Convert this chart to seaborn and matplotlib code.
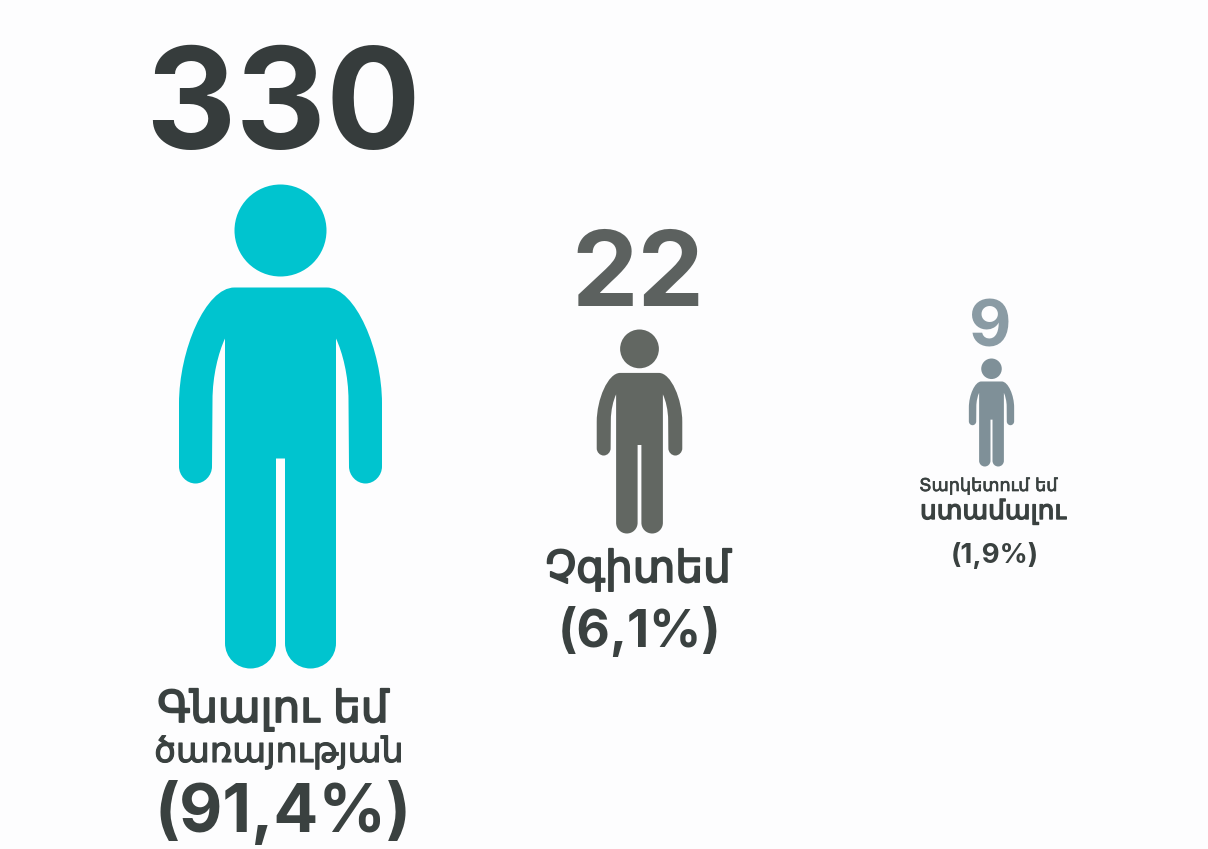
import numpy as np
import pandas as pd
import matplotlib
matplotlib.use('Agg')
import matplotlib.pyplot as plt
import matplotlib.patheffects as pe
from matplotlib.path import Path
import seaborn as sns

counts = [330, 22, 9]
shares = [91.4, 6.1, 1.9]
answers = ['Գնալու եմ ծառայության', 'Չգիտեմ', 'Տարկետում եմ ստամալու']
label_lines = [['Գնալու եմ', 'ծառայության'], ['Չգիտեմ'], ['Տարկետում եմ', 'ստամալու']]

BG = '#fdfdfe'
PERSON_COLORS = ['#00c4cf', '#626762', '#7f9098']
COUNT_COLORS = ['#363c3c', '#5c615f', '#8a9ba4']
TEXT = '#3a4140'

# layout, in pixels of the 1208x849 canvas
PERSON_X = [279.5, 639, 990.5]
PERSON_TOP = [184, 329, 358]
PERSON_BOTTOM = [668, 533, 466]
COUNT_X = [283, 638, 990]
COUNT_BASE = [149, 306, 346]
COUNT_SIZE = [101, 76, 47]
PCT_X = [283, 640, 995]
PCT_BASE = [832, 647, 563]
PCT_SIZE = [48, 37, 20]
LINE_X = [[273, 279], [638], [988, 993]]
LINE_BASE = [[722, 762], [582], [491, 519]]
LINE_SIZE = [[31.5, 25], [31.5], [12.7, 19]]
LINE_STROKE = [[1.3, 0.8], [1.3], [0.5, 1.0]]


def person_marker():
    # left half of the body, drawn from the big figure: dx from centre, y from top of page
    left = [
        (-46, 287, Path.MOVETO),
        (-75, 287, Path.CURVE4), (-101.5, 350, Path.CURVE4), (-101.5, 403, Path.CURVE4),
        (-101.5, 466, Path.LINETO),
        (-101.5, 475, Path.CURVE4), (-94, 483, Path.CURVE4), (-85, 483, Path.CURVE4),
        (-76, 483, Path.CURVE4), (-68.5, 475, Path.CURVE4), (-68.5, 466, Path.CURVE4),
        (-68, 400, Path.LINETO),
        (-68, 375, Path.CURVE4), (-62, 352, Path.CURVE4), (-55.5, 338, Path.CURVE4),
        (-55.5, 642.5, Path.LINETO),
        (-55.5, 657, Path.CURVE4), (-44, 668, Path.CURVE4), (-30, 668, Path.CURVE4),
        (-16, 668, Path.CURVE4), (-4.5, 657, Path.CURVE4), (-4.5, 642.5, Path.CURVE4),
        (-4.5, 458, Path.LINETO),
    ]
    xs = [p[0] for p in left]
    ys = [p[1] for p in left]
    codes = [p[2] for p in left]
    verts = list(zip(xs, ys))
    verts += [(-x, y) for x, y in zip(xs[::-1], ys[::-1])]
    codes = codes + [Path.LINETO] + codes[:0:-1]
    verts.append((xs[0], ys[0]))
    codes.append(Path.CLOSEPOLY)
    verts = np.array(verts, dtype=float)
    # centre on the figure and flip, marker space has y going up
    verts[:, 1] = 426 - verts[:, 1]
    verts /= 242
    body = Path(verts, codes)
    head = Path.circle((0, (426 - 230) / 242), 46 / 242)
    return Path.make_compound_path(head, body)


sns.set_theme(style='white')
plt.rcParams['font.family'] = ['Inter', 'DejaVu Sans']

fig = plt.figure(figsize=(12.08, 8.49), dpi=100, facecolor=BG)
ax = fig.add_axes([0, 0, 1, 1])
ax.set_xlim(0, 1208)
ax.set_ylim(849, 0)
ax.axis('off')

df = pd.DataFrame({'answer': answers, 'count': counts, 'share': shares})
df['x'] = PERSON_X
df['y'] = [(t + b) / 2 for t, b in zip(PERSON_TOP, PERSON_BOTTOM)]
df['h'] = [b - t for t, b in zip(PERSON_TOP, PERSON_BOTTOM)]

marker = person_marker()
for i, row in df.iterrows():
    sns.scatterplot(data=df.iloc[[i]], x='x', y='y', marker=marker,
                    s=(row['h'] * 0.72) ** 2, color=PERSON_COLORS[i],
                    linewidth=0, legend=False, ax=ax)
ax.set_xlim(0, 1208)
ax.set_ylim(849, 0)

for i, row in df.iterrows():
    ax.text(COUNT_X[i], COUNT_BASE[i], str(row['count']), ha='center', va='baseline',
            fontsize=COUNT_SIZE[i], fontweight='bold', color=COUNT_COLORS[i])
    ax.text(PCT_X[i], PCT_BASE[i], '(' + f"{row['share']:.1f}".replace('.', ',') + '%)',
            ha='center', va='baseline', fontsize=PCT_SIZE[i], fontweight='bold', color=TEXT)
    for line, lx, lb, ls, st in zip(label_lines[i], LINE_X[i], LINE_BASE[i], LINE_SIZE[i], LINE_STROKE[i]):
        t = ax.text(lx, lb, line, ha='center', va='baseline', fontsize=ls,
                    family='DejaVu Sans', color=TEXT)
        t.set_path_effects([pe.withStroke(linewidth=st, foreground=TEXT)])

fig.savefig('out.png', dpi=100, facecolor=BG)
